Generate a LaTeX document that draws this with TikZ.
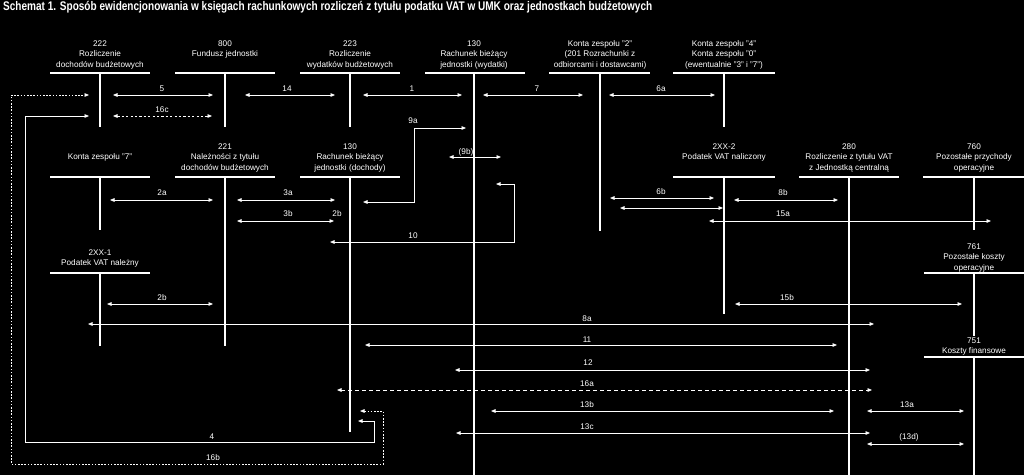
\documentclass[tikz,border=0pt]{standalone}
\usepackage{fontspec}
\setmainfont{Liberation Sans}
\usepackage{graphicx}
\usetikzlibrary{arrows.meta}
\begin{document}
\begin{tikzpicture}[x=1pt,y=-1pt,
  acct/.style={font=\fontsize{8.2}{10.8}\selectfont, align=center, inner sep=0pt, anchor=north, text=white},
  lbl/.style={font=\fontsize{8.2}{10}\selectfont, inner sep=0pt, text=white},
  tbar/.style={draw=white, line width=2.2pt},
  conn/.style={draw=white, line width=0.8pt, {Triangle[length=4.5pt,width=3.6pt]}-{Triangle[length=4.5pt,width=3.6pt]}},
  shortdash/.style={dash pattern=on 2.2pt off 2.2pt},
  dotdash/.style={dash pattern=on 1.6pt off 1.6pt},
  longdash/.style={dash pattern=on 4pt off 3pt}
]
\useasboundingbox (0,0) rectangle (1024,475);
\fill[black] (0,0) rectangle (1024,475);

% title
\node[anchor=west, inner sep=0pt, text=white, font=\bfseries\fontsize{12.5}{13}\selectfont] (title) at (3,7.5)
  {\resizebox{649pt}{\height}{Schemat 1. Sposób ewidencjonowania w księgach rachunkowych rozliczeń z tytułu podatku VAT w UMK oraz jednostkach budżetowych}};

% ---------- account titles ----------
\node[acct] (t222) at (100,38.3) {\strut 222\\Rozliczenie\\dochodów budżetowych};
\node[acct] (t800) at (225,38.3) {\strut 800\\Fundusz jednostki};
\node[acct] (t223) at (350,38.3) {\strut 223\\Rozliczenie\\wydatków budżetowych};
\node[acct] (t130w) at (474,38.3) {\strut 130\\Rachunek bieżący\\jednostki (wydatki)};
\node[acct] (tk2) at (600,38.3) {\strut Konta zespołu "2"\\(201 Rozrachunki z\\odbiorcami i dostawcami)};
\node[acct] (tk4) at (724,38.3) {\strut Konta zespołu "4"\\Konta zespołu "0"\\(ewentualnie "3" i "7")};

\node[acct] (tk7) at (100,151.3) {\strut Konta zespołu "7"};
\node[acct] (t221) at (225,141.3) {\strut 221\\Należności z tytułu\\dochodów budżetowych};
\node[acct] (t130d) at (350,141.3) {\strut 130\\Rachunek bieżący\\jednostki (dochody)};
\node[acct] (t2xx2) at (724,141.3) {\strut 2XX-2\\Podatek VAT naliczony};
\node[acct] (t280) at (849,141.3) {\strut 280\\Rozliczenie z tytułu VAT\\z Jednostką centralną};
\node[acct] (t760) at (974,141.3) {\strut 760\\Pozostałe przychody\\operacyjne};

\node[acct] (t2xx1) at (100,247.3) {\strut 2XX-1\\Podatek VAT należny};
\node[acct] (t761) at (974,241.3) {\strut 761\\Pozostałe koszty\\operacyjne};
\node[acct] (t751) at (974,335.3) {\strut 751\\Koszty finansowe};

% ---------- T accounts ----------
\draw[tbar] (50,73) -- (150,73);   \draw[tbar] (100,73) -- (100,127);
\draw[tbar] (175,73) -- (275,73);  \draw[tbar] (225,73) -- (225,127);
\draw[tbar] (300,73) -- (400,73);  \draw[tbar] (350,73) -- (350,127);
\draw[tbar] (425,73) -- (525,73);  \draw[tbar] (474,73) -- (474,475);
\draw[tbar] (549,73) -- (650,73);  \draw[tbar] (600,73) -- (600,231);
\draw[tbar] (673,73) -- (775,73);  \draw[tbar] (724,73) -- (724,127);

\draw[tbar] (50,177) -- (150,177);   \draw[tbar] (100,177) -- (100,230);
\draw[tbar] (175,177) -- (275,177);  \draw[tbar] (225,177) -- (225,346);
\draw[tbar] (300,177) -- (400,177);  \draw[tbar] (350,177) -- (350,432);
\draw[tbar] (673,177) -- (775,177);  \draw[tbar] (724,177) -- (724,314);
\draw[tbar] (799,177) -- (899,177);  \draw[tbar] (849,177) -- (849,475);
\draw[tbar] (923,177) -- (1024,177); \draw[tbar] (974,177) -- (974,230);

\draw[tbar] (50,273) -- (150,273);   \draw[tbar] (100,273) -- (100,346);
\draw[tbar] (924,273) -- (1024,273); \draw[tbar] (974,273) -- (974,336);
\draw[tbar] (924,357) -- (1024,357); \draw[tbar] (974,357) -- (974,475);

% ---------- connectors ----------
\draw[conn] (113,95) -- (213,95);  \node[lbl] (l5) at (162,89) {5};
\draw[conn] (245,95) -- (335,95);  \node[lbl] (l14) at (287,89) {14};
\draw[conn] (363,95) -- (462,95);  \node[lbl] (l1) at (412,89) {1};
\draw[conn] (483,95) -- (583,95);  \node[lbl] (l7) at (537,89) {7};
\draw[conn] (609,95) -- (715,95);  \node[lbl] (l6a) at (661,89) {6a};
\draw[conn,shortdash] (113,116) -- (212,116); \node[lbl] (l16c) at (162,110) {16c};

\draw[conn,dotdash] (360,411) -- (383,411) -- (383,464) -- (11,464) -- (11,95) -- (89,95);
\node[lbl] (l16b) at (213,458) {16b};
\draw[conn] (358,421) -- (374,421) -- (374,442) -- (25,442) -- (25,116) -- (89,116);
\node[lbl] (l4) at (212,437) {4};

\draw[conn] (363,202) -- (414,202) -- (414,128) -- (466,128); \node[lbl] (l9a) at (413,121) {9a};
\draw[conn] (449,157) -- (501,157); \node[lbl] (l9b) at (466,152) {(9b)};
\draw[conn] (496,184) -- (514,184) -- (514,242) -- (330,242); \node[lbl] (l10) at (413,236) {10};

\draw[conn] (110,200) -- (213,200); \node[lbl] (l2a) at (162,193) {2a};
\draw[conn] (237,200) -- (335,200); \node[lbl] (l3a) at (288,193) {3a};
\draw[conn] (237,221) -- (334,221); \node[lbl] (l3b) at (288,214) {3b};
\node[lbl] (l2bx) at (337,214) {2b};

\draw[conn] (610,198) -- (714,198); \node[lbl] (l6b) at (661,192) {6b};
\draw[conn] (620,208) -- (723,208);
\draw[conn] (734,200) -- (838,200); \node[lbl] (l8b) at (783,193) {8b};
\draw[conn] (709,221) -- (991,221); \node[lbl] (l15a) at (783,214) {15a};

\draw[conn] (107,304) -- (213,304); \node[lbl] (l2b) at (162,298) {2b};
\draw[conn] (88,324) -- (874,324);  \node[lbl] (l8a) at (587,319) {8a};
\draw[conn] (735,304) -- (962,304); \node[lbl] (l15b) at (787,298) {15b};
\draw[conn] (365,345) -- (837,345); \node[lbl] (l11) at (587,340) {11};
\draw[conn] (455,370) -- (870,370); \node[lbl] (l12) at (588,363) {12};
\draw[conn,longdash] (337,390) -- (872,390); \node[lbl] (l16a) at (587,384) {16a};
\draw[conn] (491,411) -- (834,411); \node[lbl] (l13b) at (587,405) {13b};
\draw[conn] (456,433) -- (870,433); \node[lbl] (l13c) at (587,427) {13c};
\draw[conn] (867,411) -- (964,411); \node[lbl] (l13a) at (907,405) {13a};
\draw[conn] (867,444) -- (964,444); \node[lbl] (l13d) at (909,437) {(13d)};
\end{tikzpicture}
\end{document}
